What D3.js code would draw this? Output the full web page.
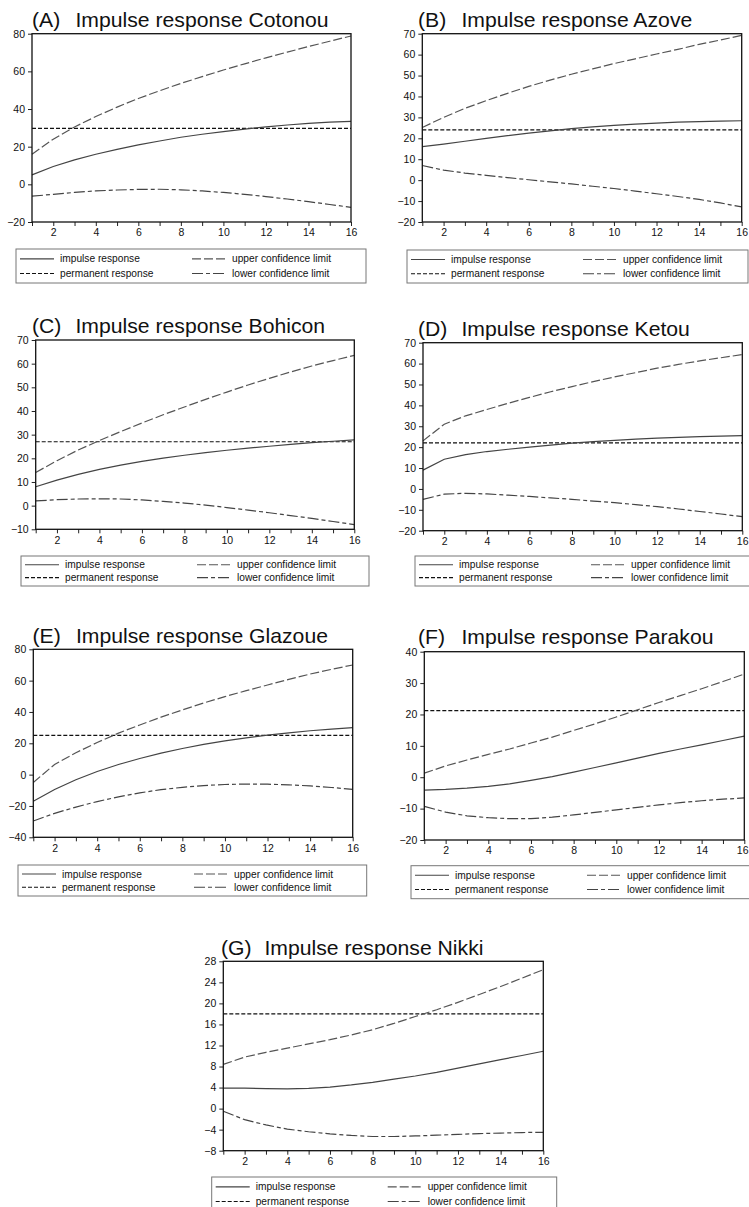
<!DOCTYPE html>
<html>
<head>
<meta charset="utf-8">
<script src="https://cdn.jsdelivr.net/npm/d3@7"></script>
<style>
  body { margin: 0; background: #fff; }
  svg { display: block; }
  text { font-family: "Liberation Sans", Arial, sans-serif; fill: #111; }
</style>
</head>
<body>
<div id="vis"></div>
<script>
// periods 1..16
var periods = [1, 2, 3, 4, 5, 6, 7, 8, 9, 10, 11, 12, 13, 14, 15, 16];
var xTickLabels = [2, 4, 6, 8, 10, 12, 14, 16];

// (A) Cotonou
var impulseA = [5, 9.5, 13, 16, 18.6, 21, 23, 25, 26.6, 28, 29.3, 30.5, 31.5, 32.4, 33, 33.4];
var upperA = [16, 24, 30.5, 36, 41, 45.6, 49.7, 53.6, 57.2, 60.7, 64, 67.2, 70.2, 73.2, 76, 78.8];
var lowerA = [-6.3, -5.3, -4.3, -3.5, -3, -2.7, -2.6, -2.9, -3.5, -4.3, -5.3, -6.5, -7.8, -9.2, -10.7, -12.2];
var permA = 29.7;
var yTicksA = [-20, 0, 20, 40, 60, 80];

// (B) Azove
var impulseB = [16, 17.2, 18.6, 20, 21.3, 22.5, 23.6, 24.6, 25.5, 26.2, 26.8, 27.3, 27.7, 28, 28.2, 28.4];
var upperB = [25.2, 30, 34.3, 38, 41.5, 44.8, 47.8, 50.6, 53.2, 55.7, 58, 60.3, 62.5, 64.9, 67, 69.2];
var lowerB = [7, 4.8, 3.4, 2.3, 1.2, 0.2, -0.8, -1.8, -2.9, -4, -5.2, -6.5, -7.8, -9.2, -10.9, -12.8];
var permB = 24;
var yTicksB = [-20, -10, 0, 10, 20, 30, 40, 50, 60, 70];

// (C) Bohicon
var impulseC = [8, 10.8, 13.2, 15.3, 17.1, 18.7, 20.1, 21.3, 22.4, 23.4, 24.3, 25.1, 25.9, 26.6, 27.2, 27.8];
var upperC = [14, 19, 23.5, 27.5, 31.3, 34.9, 38.4, 41.7, 44.9, 48, 51, 53.8, 56.5, 59, 61.3, 63.5];
var lowerC = [2, 2.5, 2.8, 2.9, 2.8, 2.4, 1.8, 1.1, 0.2, -0.8, -1.9, -3, -4.2, -5.4, -6.7, -8];
var permC = 27;
var yTicksC = [-10, 0, 10, 20, 30, 40, 50, 60, 70];

// (D) Ketou
var impulseD = [9, 14.2, 16.4, 17.9, 19, 20, 21, 21.9, 22.6, 23.2, 23.8, 24.3, 24.7, 25, 25.3, 25.5];
var upperD = [23, 31, 35, 38, 41, 43.8, 46.5, 49, 51.4, 53.6, 55.7, 57.8, 59.6, 61.3, 62.8, 64.3];
var lowerD = [-5, -2.5, -2.1, -2.4, -3, -3.6, -4.3, -5, -5.8, -6.6, -7.5, -8.5, -9.6, -10.8, -12, -13.3];
var permD = 22;
var yTicksD = [-20, -10, 0, 10, 20, 30, 40, 50, 60, 70];

// (E) Glazoue
var impulseE = [-17, -9.5, -3.3, 2, 6.5, 10.3, 13.7, 16.7, 19.3, 21.6, 23.5, 25.2, 26.7, 28, 29.1, 30];
var upperE = [-5, 6.5, 14, 20.5, 26.5, 31.7, 36.7, 41.3, 45.7, 49.8, 53.6, 57.2, 60.8, 64.2, 67.2, 70];
var lowerE = [-29.6, -24.7, -20.7, -17.2, -14.2, -11.6, -9.6, -8.1, -7, -6.3, -6, -6.1, -6.5, -7.2, -8.2, -9.4];
var permE = 25;
var yTicksE = [-40, -20, 0, 20, 40, 60, 80];

// (F) Parakou
var impulseF = [-4.1, -3.9, -3.5, -2.9, -2.1, -1, 0.2, 1.6, 3.1, 4.6, 6.1, 7.6, 9, 10.3, 11.7, 13.1];
var upperF = [1.3, 3.6, 5.5, 7.3, 9, 10.9, 12.8, 14.9, 17, 19.2, 21.5, 23.8, 26, 28.2, 30.5, 32.9];
var lowerF = [-9.3, -11.1, -12.3, -12.9, -13.2, -13.2, -12.7, -12, -11.2, -10.4, -9.6, -8.8, -8.1, -7.5, -7, -6.6];
var permF = 21.2;
var yTicksF = [-20, -10, 0, 10, 20, 30, 40];

// (G) Nikki
var impulseG = [3.9, 3.9, 3.8, 3.75, 3.85, 4.1, 4.5, 5, 5.6, 6.2, 6.9, 7.7, 8.5, 9.3, 10.1, 10.9];
var upperG = [8.4, 9.8, 10.7, 11.5, 12.3, 13.1, 14, 15, 16.2, 17.5, 18.8, 20.2, 21.7, 23.2, 24.8, 26.4];
var lowerG = [-0.5, -2.1, -3.1, -3.9, -4.4, -4.8, -5.1, -5.3, -5.3, -5.2, -5.05, -4.9, -4.75, -4.65, -4.55, -4.5];
var permG = 18;
var yTicksG = [-8, -4, 0, 4, 8, 12, 16, 20, 24, 28];

var legendItems = ["impulse response", "permanent response", "upper confidence limit", "lower confidence limit"];

var panels = [
  {tag: "(A)", name: "Impulse response Cotonou", imp: impulseA, up: upperA, lo: lowerA, perm: permA, ticks: yTicksA,
   box: [32, 33.7, 351, 222], title: [32, 27], leg: [16, 249, 350, 34]},
  {tag: "(B)", name: "Impulse response Azove", imp: impulseB, up: upperB, lo: lowerB, perm: permB, ticks: yTicksB,
   box: [422.3, 33.7, 741.7, 222], title: [418, 27], leg: [407, 250, 341, 33]},
  {tag: "(C)", name: "Impulse response Bohicon", imp: impulseC, up: upperC, lo: lowerC, perm: permC, ticks: yTicksC,
   box: [35.7, 340, 354.3, 529.3], title: [32, 333], leg: [21, 556, 348, 30]},
  {tag: "(D)", name: "Impulse response Ketou", imp: impulseD, up: upperD, lo: lowerD, perm: permD, ticks: yTicksD,
   box: [423, 342.7, 742.3, 530.7], title: [418, 335.5], leg: [415, 556, 340, 30]},
  {tag: "(E)", name: "Impulse response Glazoue", imp: impulseE, up: upperE, lo: lowerE, perm: permE, ticks: yTicksE,
   box: [33.3, 649.3, 352.7, 837.3], title: [32.5, 642.5], leg: [18, 865, 348.7, 31]},
  {tag: "(F)", name: "Impulse response Parakou", imp: impulseF, up: upperF, lo: lowerF, perm: permF, ticks: yTicksF,
   box: [424.3, 651.7, 744.3, 840], title: [418, 643.5], leg: [411, 865.7, 345, 33]},
  {tag: "(G)", name: "Impulse response Nikki", imp: impulseG, up: upperG, lo: lowerG, perm: permG, ticks: yTicksG,
   box: [223.3, 961.3, 543.3, 1150.7], title: [221, 955], leg: [211.7, 1177, 345, 34]}
];

var styles = {
  imp: {dash: null, color: "#444"},
  perm: {dash: "4,2", color: "#111"},
  up: {dash: "9,3", color: "#555"},
  lo: {dash: "11,3,4,3", color: "#444"}
};
var legendStyle = [styles.imp, styles.perm, styles.up, styles.lo];

var W = 749;
var svg = d3.select("#vis").append("svg")
  .attr("width", W)
  .attr("height", 1207);

panels.forEach(function(p) {
  var g = svg.append("g");
  var x = d3.scaleLinear().domain([1, 16]).range([p.box[0], p.box[2]]);
  var y = d3.scaleLinear().domain(d3.extent(p.ticks)).range([p.box[3], p.box[1]]);

  // title
  var t = g.append("g").attr("transform", "translate(" + p.title[0] + "," + p.title[1] + ") scale(1.06,1)");
  t.append("text").attr("font-size", 20).text(p.tag);
  t.append("text").attr("x", 41).attr("font-size", 20).text(p.name);

  // axes
  var yAxis = d3.axisLeft(y).tickValues(p.ticks).tickSize(4).tickPadding(3);
  var ya = g.append("g").attr("transform", "translate(" + p.box[0] + ",0)").call(yAxis);
  var xAxis = d3.axisBottom(x).tickValues(periods).tickSize(4).tickPadding(3)
    .tickFormat(function(d) { return xTickLabels.indexOf(d) >= 0 ? d : ""; });
  var xa = g.append("g").attr("transform", "translate(0," + p.box[3] + ")").call(xAxis);
  [ya, xa].forEach(function(a) {
    a.select(".domain").remove();
    a.selectAll("line").attr("stroke", "#222");
    a.selectAll("text").attr("font-size", 10.5).attr("fill", "#222")
      .style("font-family", "'Liberation Sans', Arial, sans-serif");
  });
  // keep the last x label inside the page
  xa.selectAll("text").each(function() {
    var tx = x(+this.textContent || 0);
    var w = this.getComputedTextLength();
    if (this.textContent && tx + w / 2 > W - 1) {
      d3.select(this).attr("text-anchor", "end").attr("dx", (W - 1 - tx) + "px");
    }
  });

  // series
  var line = d3.line().x(function(d, i) { return x(periods[i]); }).y(function(d) { return y(d); });
  var permLine = periods.map(function() { return p.perm; });
  [["perm", permLine], ["lo", p.lo], ["up", p.up], ["imp", p.imp]].forEach(function(s) {
    var st = styles[s[0]];
    g.append("path").datum(s[1])
      .attr("d", line)
      .attr("fill", "none")
      .attr("stroke", st.color)
      .attr("stroke-width", 1.2)
      .attr("stroke-dasharray", st.dash);
  });

  // frame
  g.append("rect")
    .attr("x", p.box[0]).attr("y", p.box[1])
    .attr("width", p.box[2] - p.box[0]).attr("height", p.box[3] - p.box[1])
    .attr("fill", "none").attr("stroke", "#111").attr("stroke-width", 1.3);

  // legend
  var L = p.leg;
  g.append("rect").attr("x", L[0]).attr("y", L[1]).attr("width", L[2]).attr("height", L[3])
    .attr("fill", "none").attr("stroke", "#777").attr("stroke-width", 1);
  legendItems.forEach(function(label, i) {
    var col = Math.floor(i / 2), row = i % 2;
    var lx = L[0] + (col === 0 ? 4 : 176);
    var ly = L[1] + L[3] * (row === 0 ? 0.29 : 0.72);
    g.append("line").attr("x1", lx).attr("x2", lx + 34).attr("y1", ly).attr("y2", ly)
      .attr("stroke", legendStyle[i].color).attr("stroke-width", 1.1)
      .attr("stroke-dasharray", legendStyle[i].dash);
    g.append("text").attr("x", lx + 40).attr("y", ly + 3.6).attr("font-size", 10.2).attr("fill", "#222").text(label);
  });
});
</script>
</body>
</html>
